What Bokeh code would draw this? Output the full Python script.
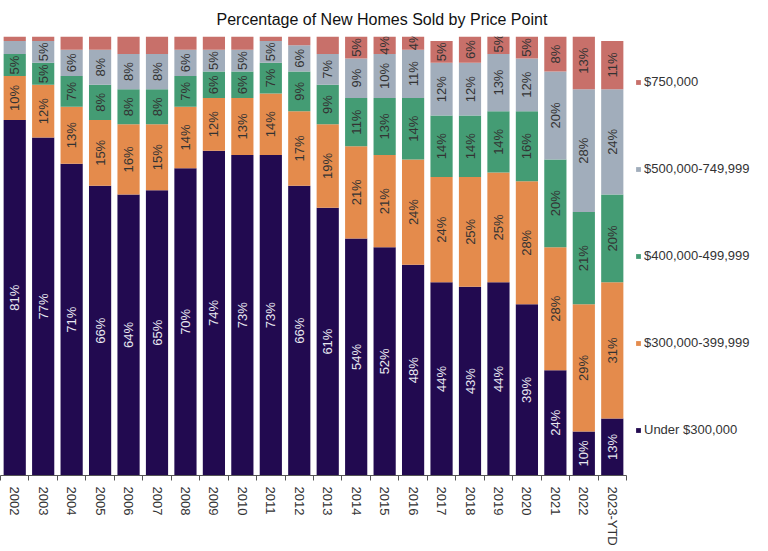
import numpy as np
from bokeh.plotting import figure
from bokeh.models import ColumnDataSource, Range1d, FixedTicker, Legend, LegendItem
from bokeh.core.properties import value
from bokeh.embed import file_html
from bokeh.resources import INLINE

# ---- data (percent of new homes sold) ----
years = ["2002", "2003", "2004", "2005", "2006", "2007", "2008", "2009", "2010", "2011",
         "2012", "2013", "2014", "2015", "2016", "2017", "2018", "2019", "2020", "2021",
         "2022", "2023-YTD"]
under_300k = [81, 77, 71, 66, 64, 65, 70, 74, 73, 73, 66, 61, 54, 52, 48, 44, 43, 44, 39, 24, 10, 13]
p300_399k = [10, 12, 13, 15, 16, 15, 14, 12, 13, 14, 17, 19, 21, 21, 24, 24, 25, 25, 28, 28, 29, 31]
p400_499k = [5, 5, 7, 8, 8, 8, 7, 6, 6, 7, 9, 9, 11, 13, 14, 14, 14, 14, 16, 20, 21, 20]
p500_749k = [3, 5, 6, 8, 8, 8, 6, 5, 5, 5, 6, 7, 9, 10, 11, 12, 12, 13, 12, 20, 28, 24]
p750k_plus = [1, 1, 3, 3, 4, 4, 3, 3, 3, 1, 2, 4, 5, 4, 4, 5, 6, 5, 5, 8, 13, 11]
# which $750,000 segments carry a data label in the original
p750k_labeled = [False, False, False, False, False, False, False, False, False, False,
                 False, False, True, True, True, True, True, True, True, True, True, True]

series_names = ["Under $300,000", "$300,000-399,999", "$400,000-499,999",
                "$500,000-749,999", "$750,000"]
series_values = [under_300k, p300_399k, p400_499k, p500_749k, p750k_plus]
colors = ["#220a50", "#e48b4c", "#449c74", "#a1adbb", "#c8706a"]
label_colors = ["#e8e8f0", "#333333", "#333333", "#333333", "#333333"]

FONT = "Liberation Sans"

n = len(years)
xs = np.arange(n) + 0.5
keys = ["s0", "s1", "s2", "s3", "s4"]
data = {"x": xs}
for k, v in zip(keys, series_values):
    data[k] = v
src = ColumnDataSource(data)

p = figure(frame_width=626, frame_height=439, x_range=Range1d(0, n), y_range=Range1d(0, 100),
           output_backend="svg", toolbar_location=None, y_axis_location=None,
           min_border_left=0, min_border_right=0, min_border_bottom=0, min_border_top=0)

renderers = p.vbar_stack(keys, x="x", width=0.78, color=colors, line_color=None, source=src)

# data labels
bottom = np.zeros(n)
for i, vals in enumerate(series_values):
    vals = np.array(vals, dtype=float)
    mids = bottom + vals / 2
    if i == 4:
        show = np.array(p750k_labeled)
    else:
        show = vals >= 4
    txt = [f"{int(v)}%" for v in vals[show]]
    lsrc = ColumnDataSource(dict(x=xs[show], y=mids[show], t=txt))
    p.text(x="x", y="y", text="t", source=lsrc, angle=np.pi / 2,
           text_align="center", text_baseline="middle",
           text_font=value(FONT), text_font_size="13px", text_color=label_colors[i])
    bottom = bottom + vals

# axis
ax = p.xaxis[0]
ax.ticker = FixedTicker(ticks=list(xs), minor_ticks=list(range(0, n + 1)))
ax.major_label_overrides = {float(x): y for x, y in zip(xs, years)}
ax.major_label_orientation = "vertical"
ax.major_label_text_font = FONT
ax.major_label_text_font_size = "13px"
ax.major_label_text_color = "#333333"
ax.major_tick_in = 0
ax.major_tick_out = 0
ax.minor_tick_in = 0
ax.minor_tick_out = 5
ax.minor_tick_line_color = "#555555"
ax.axis_line_color = "#555555"
ax.major_label_standoff = 6

p.xgrid.visible = False
p.ygrid.visible = False
p.outline_line_color = None
p.background_fill_color = "white"
p.border_fill_color = "white"

# title
p.title.text = "Percentage of New Homes Sold by Price Point"
p.title.align = "left"
p.title.offset = 216
p.title.standoff = 17
p.title.text_font = FONT
p.title.text_font_size = "16px"
p.title.text_font_style = "normal"
p.title.text_color = "#111111"

# legend
items = [LegendItem(label=series_names[i], renderers=[renderers[i]]) for i in range(4, -1, -1)]
legend = Legend(items=items, location="center_left", glyph_width=6, glyph_height=6,
                label_text_font=FONT, label_text_font_size="13px", label_text_color="#333333",
                label_standoff=3, label_height=16, spacing=71, padding=6, margin=9,
                border_line_color=None, background_fill_alpha=0)
p.add_layout(legend, "right")

open("out.html", "w").write(file_html(p, INLINE))
